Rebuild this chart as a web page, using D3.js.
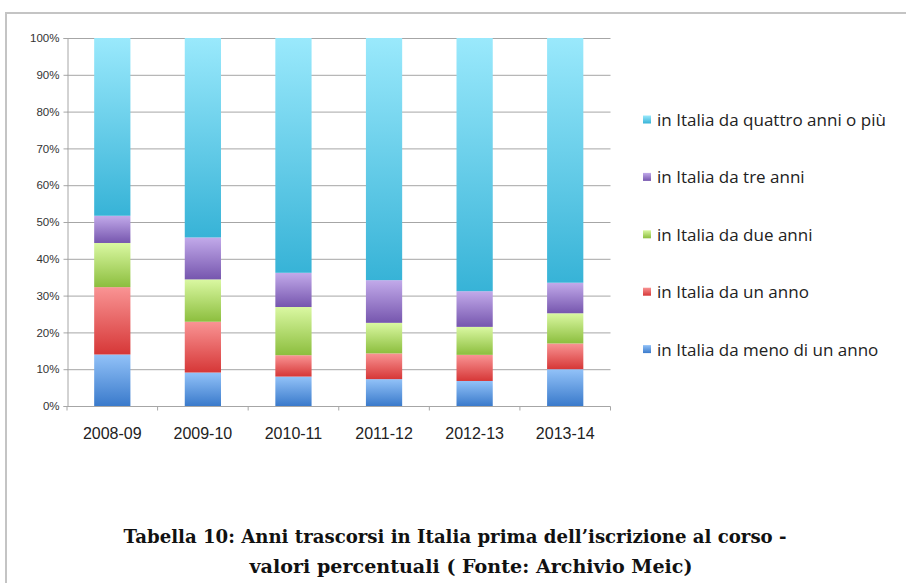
<!DOCTYPE html>
<html>
<head>
<meta charset="utf-8">
<script src="https://cdn.jsdelivr.net/npm/d3@7"></script>
<style>
  html, body { margin: 0; padding: 0; background: #fff; }
  svg { display: block; }
</style>
</head>
<body>
<svg id="chart" width="906" height="583"></svg>
<script>
const categories = ["2008-09", "2009-10", "2010-11", "2011-12", "2012-13", "2013-14"];
const seriesNames = [
  "in Italia da meno di un anno",
  "in Italia da un anno",
  "in Italia da due anni",
  "in Italia da tre anni",
  "in Italia da quattro anni o più"
];
const menoUnAnno   = [14.0, 9.1, 8.0, 7.3, 6.8, 10.0];
const unAnno       = [18.3, 13.8, 5.8, 7.0, 7.1, 7.0];
const dueAnni      = [12.0, 11.5, 13.1, 8.3, 7.6, 8.2];
const treAnni      = [7.4, 11.4, 9.3, 11.6, 9.7, 8.3];
const quattroPiu   = [48.3, 54.2, 63.8, 65.8, 68.8, 66.5];
const yTicks = [0, 10, 20, 30, 40, 50, 60, 70, 80, 90, 100];
const captionLines = [
  "Tabella 10: Anni trascorsi in Italia prima dell\u2019iscrizione al corso -",
  "valori  percentuali ( Fonte: Archivio Meic)"
];

(function () {
const seriesValues = [menoUnAnno, unAnno, dueAnni, treAnni, quattroPiu];
const gradColors = [
  ["#92c2f8", "#3a7acb"],
  ["#f99494", "#d63737"],
  ["#daf8a2", "#8cbe3e"],
  ["#c2aaea", "#7656ae"],
  ["#9ae9fc", "#37b3d7"]
];
const keys = ["s0", "s1", "s2", "s3", "s4"];
const table = categories.map((c, i) => {
  const row = { cat: c };
  keys.forEach((k, j) => row[k] = seriesValues[j][i]);
  return row;
});

const svg = d3.select("#chart");
const defs = svg.append("defs");
gradColors.forEach((c, j) => {
  const g = defs.append("linearGradient").attr("id", "g" + j)
    .attr("x1", 0).attr("y1", 0).attr("x2", 0).attr("y2", 1);
  g.append("stop").attr("offset", "0%").attr("stop-color", c[0]);
  g.append("stop").attr("offset", "100%").attr("stop-color", c[1]);
});

// outer frame
svg.append("path")
  .attr("d", "M6,583 V13 H906")
  .attr("fill", "none").attr("stroke", "#c4c4c4").attr("stroke-width", 2);

const mLeft = 67, mRight = 610.5, mTop = 38, mBottom = 406;
const x = d3.scaleBand().domain(categories).range([mLeft, mRight]).paddingInner(0.6).paddingOuter(0.3);
const y = d3.scaleLinear().domain([0, 100]).range([mBottom, mTop]);

// gridlines
svg.append("g").selectAll("line").data(yTicks.filter(t => t > 0)).join("line")
  .attr("x1", mLeft).attr("x2", mRight)
  .attr("y1", d => y(d) + 0.5).attr("y2", d => y(d) + 0.5)
  .attr("stroke", "#a6a6a6").attr("stroke-width", 1);

// y axis
const yAxis = svg.append("g").attr("transform", `translate(${mLeft + 0.5},0)`)
  .call(d3.axisLeft(y).tickValues(yTicks).tickFormat(d => d + "%").tickSize(4).tickPadding(4));
yAxis.select(".domain").attr("stroke", "#a6a6a6");
yAxis.selectAll(".tick line").attr("stroke", "#a6a6a6");
yAxis.selectAll("text").attr("font-family", "'Liberation Sans', Arial, sans-serif")
  .attr("font-size", 11.5).attr("fill", "#333");

// stacked bars
const stack = d3.stack().keys(keys)(table);
svg.append("g").selectAll("g").data(stack).join("g")
  .attr("fill", (d, j) => `url(#g${j})`)
  .selectAll("rect").data(d => d).join("rect")
  .attr("x", d => x(d.data.cat))
  .attr("width", x.bandwidth())
  .attr("y", d => y(d[1]))
  .attr("height", d => y(d[0]) - y(d[1]));

// x axis
const xAxis = svg.append("g").attr("transform", `translate(0,${mBottom + 0.5})`);
xAxis.append("line").attr("x1", mLeft).attr("x2", mRight).attr("stroke", "#a6a6a6");
const bounds = d3.range(categories.length + 1).map(i => mLeft + i * (mRight - mLeft) / categories.length);
xAxis.selectAll("line.tk").data(bounds).join("line").attr("class", "tk")
  .attr("x1", d => d).attr("x2", d => d).attr("y1", 0).attr("y2", 4)
  .attr("stroke", "#a6a6a6");
xAxis.selectAll("text").data(categories).join("text")
  .attr("x", d => x(d) + x.bandwidth() / 2)
  .attr("y", 32)
  .attr("text-anchor", "middle")
  .attr("font-family", "'Liberation Sans', Arial, sans-serif")
  .attr("font-size", 16).attr("fill", "#222")
  .text(d => d);

// legend
const legendOrder = [4, 3, 2, 1, 0];
const lg = svg.append("g");
legendOrder.forEach((j, i) => {
  const ly = 120 + i * 57.4;
  lg.append("rect").attr("x", 643).attr("y", ly - 4.5).attr("width", 8).attr("height", 8)
    .attr("fill", `url(#g${j})`);
  lg.append("text").attr("x", 657).attr("y", ly + 6)
    .attr("font-family", "'Open Sans', 'Liberation Sans', sans-serif")
    .attr("font-size", 17).attr("fill", "#222")
    .text(seriesNames[j]);
});

// caption
const capX = [455, 471], capW = [663, 443];
svg.append("g").selectAll("text").data(captionLines).join("text")
  .attr("x", (d, i) => capX[i]).attr("y", (d, i) => 543 + i * 30)
  .attr("text-anchor", "middle")
  .attr("font-family", "'DejaVu Serif', 'Liberation Serif', serif")
  .attr("font-weight", "bold")
  .attr("font-size", 18).attr("fill", "#111")
  .attr("textLength", (d, i) => capW[i])
  .attr("lengthAdjust", "spacingAndGlyphs")
  .text(d => d);
})();
</script>
</body>
</html>
